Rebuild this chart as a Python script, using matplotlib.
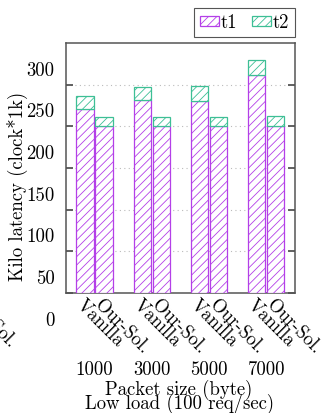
import numpy as np
import matplotlib
matplotlib.use("Agg")
import matplotlib.pyplot as plt
import matplotlib.transforms as mtrans
from matplotlib.patches import Patch

plt.rcParams['font.family'] = ['cmr10', 'DejaVu Serif']
plt.rcParams['mathtext.fontset'] = 'cm'
plt.rcParams['hatch.linewidth'] = 0.6

#------------------------------------- data -------------------------------------#

packet_sizes = ["1000", "3000", "5000", "7000"]
systems = ["Vanilla", "Our-Sol."]
vanilla_t1 = [271, 282, 281, 312]
vanilla_t2 = [16, 15, 17, 18]
oursol_t1 = [250, 250, 250, 250]
oursol_t2 = [11, 11, 11, 12]
ytick_vals = [0, 50, 100, 150, 200, 250, 300]

purple = "#b43fe8"
green = "#3dbf95"
fs = 13.5

#------------------------------------- figure -------------------------------------#

fig = plt.figure(figsize=(3.23, 4.13), dpi=100)
ax = fig.add_axes([0.204, 0.2906, 0.709, 0.605])

x = np.arange(len(packet_sizes))
w = 0.30
off = 0.166

bottom_val = 50
for xs, t1, t2 in [(x - off, vanilla_t1, vanilla_t2), (x + off, oursol_t1, oursol_t2)]:
    t1 = np.array(t1)
    t2 = np.array(t2)
    ax.bar(xs, t1 - bottom_val, w, bottom=bottom_val, facecolor="white", edgecolor=purple,
           hatch="////", lw=0.9, zorder=3)
    ax.bar(xs, t2, w, bottom=t1, facecolor="white", edgecolor=green,
           hatch="////", lw=0.9, zorder=3)

ax.set_xlim(-0.5, 3.5)
ax.set_ylim(50, 350)
ax.set_yticks([50, 100, 150, 200, 250, 300])
ax.set_yticklabels([])
ax.set_xticks([])
ax.grid(axis="y", ls=(0, (1, 3)), color="#bbbbbb", lw=0.8, zorder=0)
ax.tick_params(axis="y", direction="in", length=5, width=1.3, color="#555555",
               left=True, right=True)
for s in ax.spines.values():
    s.set_color("#555555")
    s.set_linewidth(1.1)

# y tick labels sit higher than the ticks in the original
up = mtrans.ScaledTranslation(0, 14 / 100, fig.dpi_scale_trans)
ytrans = mtrans.blended_transform_factory(ax.transAxes, ax.transData) + up
for v in ytick_vals:
    ax.text(-0.05, v, str(v), transform=ytrans, ha="right", va="center",
            fontsize=fs, clip_on=False)

# rotated system labels under each bar
for i in range(len(packet_sizes)):
    for j, name in enumerate(systems):
        ax.text(i - off + 2 * off * j, 46, name, rotation=-45, rotation_mode="anchor",
                ha="left", va="top", fontsize=fs, clip_on=False)
# stray label at the far left
up2 = mtrans.ScaledTranslation(0, 6 / 100, fig.dpi_scale_trans)
ax.text(-2.155, 46, "Our-Sol.", transform=ax.transData + up2, rotation=-45,
        rotation_mode="anchor", ha="left", va="top", fontsize=fs, clip_on=False)

for i, p in enumerate(packet_sizes):
    ax.text(i, -43, p, ha="center", va="center", fontsize=fs, clip_on=False)

fig.text(179 / 323, 1 - 390 / 413, "Packet size (byte)", ha="center", va="center", fontsize=fs)
fig.text(180 / 323, 1 - 404 / 413, "Low load (100 req/sec)", ha="center", va="center", fontsize=fs)
fig.text(17 / 323, 1 - 186 / 413, "Kilo latency (clock*1k)", rotation=90,
         ha="center", va="center", fontsize=fs)

handles = [Patch(facecolor="white", edgecolor=purple, hatch="////", lw=0.9),
           Patch(facecolor="white", edgecolor=green, hatch="////", lw=0.9)]
leg = fig.legend(handles, ["t1", "t2"], loc="upper right", ncol=2,
                 bbox_to_anchor=(295 / 323, 1 - 8 / 413), fontsize=fs,
                 handlelength=1.0, handleheight=0.45, handletextpad=0.1,
                 columnspacing=0.8, borderpad=0.3, borderaxespad=0,
                 fancybox=False, framealpha=1)
leg.get_frame().set_edgecolor("#555555")
leg.get_frame().set_linewidth(0.8)

plt.savefig("out.png", dpi=100)
